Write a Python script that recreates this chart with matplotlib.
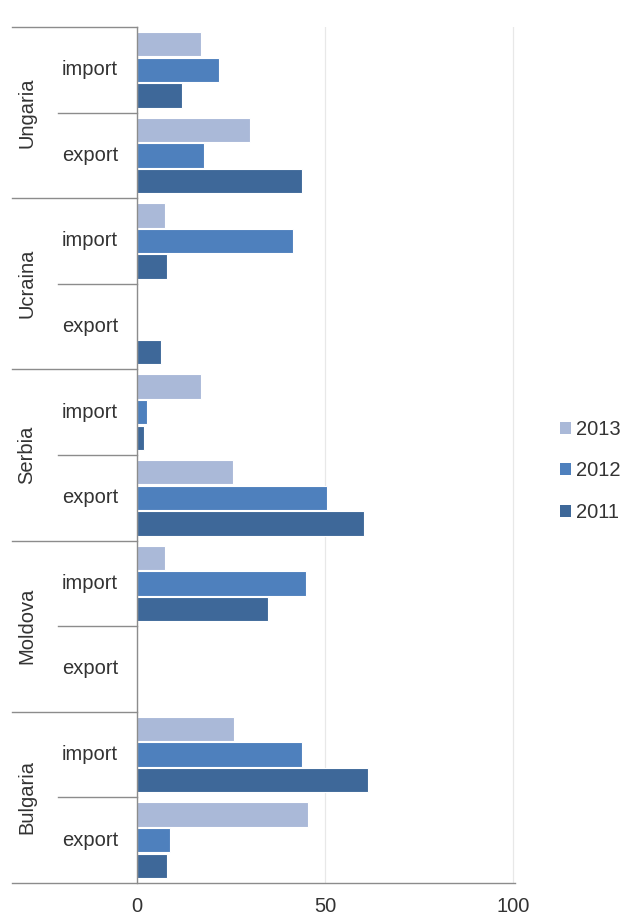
import matplotlib.pyplot as plt
from matplotlib.patches import Patch
import numpy as np

plt.rcParams['font.family'] = ['Liberation Sans', 'DejaVu Sans']

# categories, top to bottom
countries = ['Ungaria', 'Ucraina', 'Serbia', 'Moldova', 'Bulgaria']
flows = ['import', 'export']
years = ['2013', '2012', '2011']

# values per (country, flow) in the order Ungaria import, Ungaria export, Ucraina import, ...
v2013 = [17.1, 30.1, 7.4, 0, 17.1, 25.4, 7.4, 0, 25.7, 45.5]
v2012 = [21.9, 17.9, 41.4, 0, 2.6, 50.5, 44.8, 0, 44.0, 8.8]
v2011 = [11.9, 44.0, 8.1, 6.3, 1.9, 60.4, 34.9, 0, 61.4, 8.1]

colors = ['#AAB9D8', '#4E80BD', '#3E6899']
txt = '#333333'
linec = '#8C8C8C'
fs = 14.5

fig = plt.figure(figsize=(6.25, 9.19), dpi=100)
ax = fig.add_axes([137 / 625, 36 / 919, 378 / 625, 856 / 919])

pos = np.arange(len(countries) * len(flows))
offsets = [-0.3, 0.0, 0.3]
for vals, off, col, yr in zip([v2013, v2012, v2011], offsets, colors, years):
    ax.barh(pos + off, vals, height=0.285, color=col, edgecolor='white',
            linewidth=0.8, label=yr, zorder=3)

ax.set_xlim(0, 100.5)
ax.set_ylim(9.5, -0.5)
ax.set_xticks([0, 50, 100])
ax.set_yticks([])
ax.tick_params(axis='x', length=0, pad=10, labelsize=fs, colors=txt)
ax.grid(axis='x', color='#E8E8E8', linewidth=0.9, zorder=0)
for s in ['top', 'right', 'bottom']:
    ax.spines[s].set_visible(False)
ax.spines['left'].set_color(linec)
ax.spines['left'].set_linewidth(1.0)
ax.spines['left'].set_zorder(4)

# multi-level category axis drawn by hand
tr = ax.get_yaxis_transform()
x_outer = -125 / 378
x_inner = -79 / 378
ax.plot([x_outer, 1], [9.5, 9.5], transform=tr, color=linec, lw=1.0, clip_on=False, zorder=4)
for i, c in enumerate(countries):
    top = 2 * i - 0.5
    ax.plot([x_outer, 0], [top, top], transform=tr, color=linec, lw=1.0, clip_on=False)
    ax.plot([x_inner, 0], [top + 1, top + 1], transform=tr, color=linec, lw=1.0, clip_on=False)
    ax.text(-110 / 378, top + 1, c, transform=tr, rotation=90, ha='center', va='center',
            fontsize=fs, color=txt)
    for j, f in enumerate(flows):
        ax.text(-47 / 378, 2 * i + j, f, transform=tr, ha='center', va='center',
                fontsize=fs, color=txt)

handles = [Patch(facecolor=c, edgecolor='none') for c in colors]
fig.legend(handles, years, loc='center left', bbox_to_anchor=(550 / 625, 448 / 919),
           frameon=False, fontsize=fs, handlelength=0.55, handleheight=0.55,
           handletextpad=0.25, labelspacing=1.12, borderpad=0, labelcolor=txt)

fig.savefig('out.png', dpi=100)
